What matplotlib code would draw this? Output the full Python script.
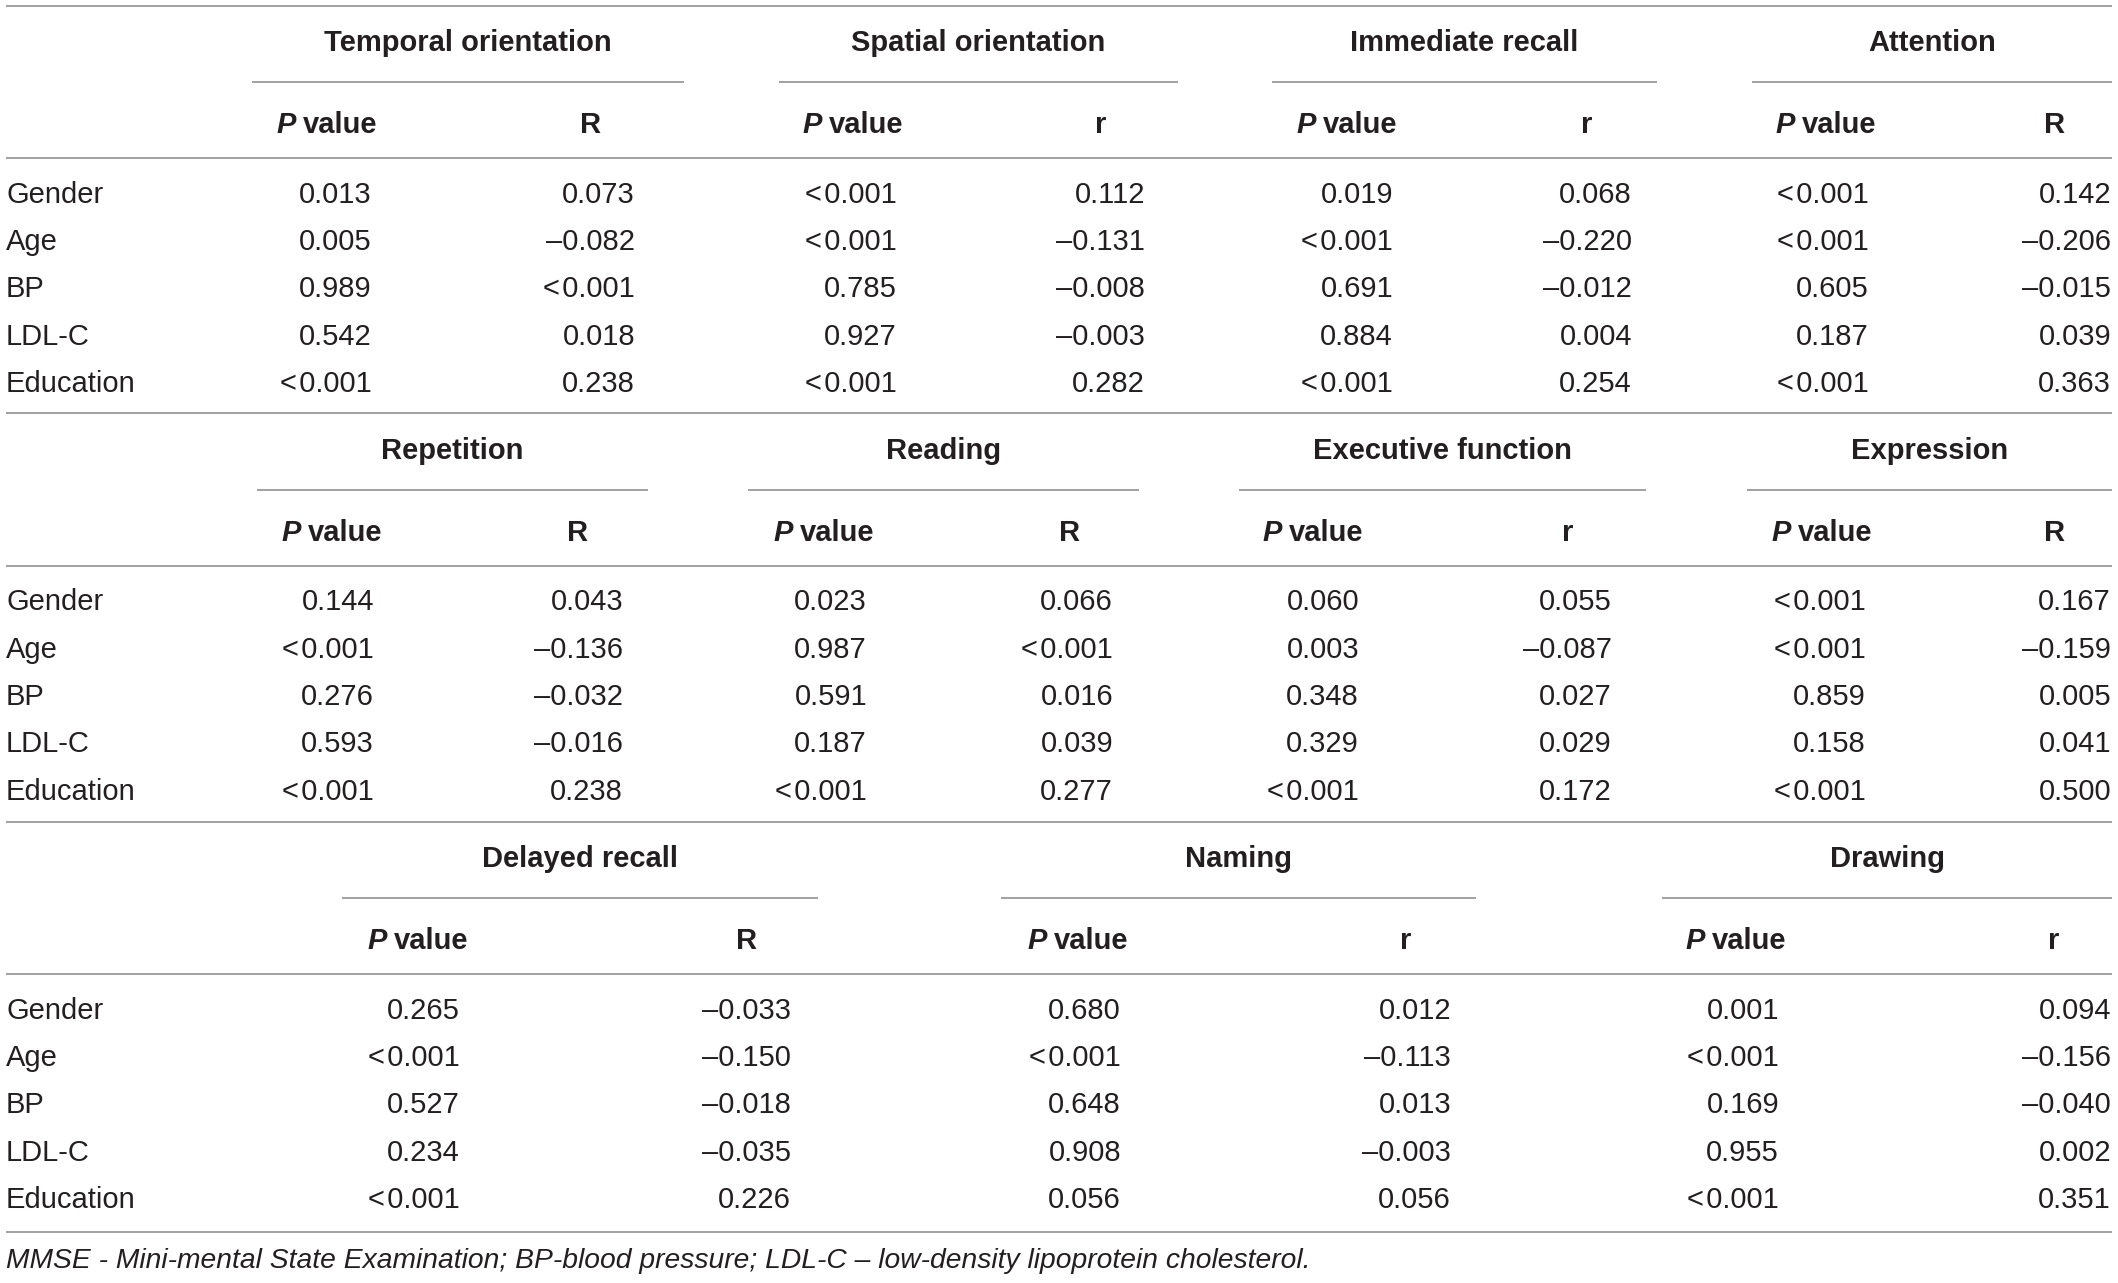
import matplotlib.pyplot as plt

# ---- table content ----
row_labels = ["Gender", "Age", "BP", "LDL-C", "Education"]

domains = ["Temporal orientation", "Spatial orientation", "Immediate recall", "Attention",
           "Repetition", "Reading", "Executive function", "Expression",
           "Delayed recall", "Naming", "Drawing"]
stat_labels = ["R", "r", "r", "R", "R", "R", "r", "R", "R", "r", "r"]

temporal_p = ["0.013", "0.005", "0.989", "0.542", "<0.001"]
temporal_r = ["0.073", "-0.082", "<0.001", "0.018", "0.238"]
spatial_p = ["<0.001", "<0.001", "0.785", "0.927", "<0.001"]
spatial_r = ["0.112", "-0.131", "-0.008", "-0.003", "0.282"]
immediate_p = ["0.019", "<0.001", "0.691", "0.884", "<0.001"]
immediate_r = ["0.068", "-0.220", "-0.012", "0.004", "0.254"]
attention_p = ["<0.001", "<0.001", "0.605", "0.187", "<0.001"]
attention_r = ["0.142", "-0.206", "-0.015", "0.039", "0.363"]
repetition_p = ["0.144", "<0.001", "0.276", "0.593", "<0.001"]
repetition_r = ["0.043", "-0.136", "-0.032", "-0.016", "0.238"]
reading_p = ["0.023", "0.987", "0.591", "0.187", "<0.001"]
reading_r = ["0.066", "<0.001", "0.016", "0.039", "0.277"]
executive_p = ["0.060", "0.003", "0.348", "0.329", "<0.001"]
executive_r = ["0.055", "-0.087", "0.027", "0.029", "0.172"]
expression_p = ["<0.001", "<0.001", "0.859", "0.158", "<0.001"]
expression_r = ["0.167", "-0.159", "0.005", "0.041", "0.500"]
delayed_p = ["0.265", "<0.001", "0.527", "0.234", "<0.001"]
delayed_r = ["-0.033", "-0.150", "-0.018", "-0.035", "0.226"]
naming_p = ["0.680", "<0.001", "0.648", "0.908", "0.056"]
naming_r = ["0.012", "-0.113", "0.013", "-0.003", "0.056"]
drawing_p = ["0.001", "<0.001", "0.169", "0.955", "<0.001"]
drawing_r = ["0.094", "-0.156", "-0.040", "0.002", "0.351"]

p_cols = [temporal_p, spatial_p, immediate_p, attention_p, repetition_p, reading_p,
          executive_p, expression_p, delayed_p, naming_p, drawing_p]
r_cols = [temporal_r, spatial_r, immediate_r, attention_r, repetition_r, reading_r,
          executive_r, expression_r, delayed_r, naming_r, drawing_r]

footnote = ("MMSE - Mini-mental State Examination; BP-blood pressure; "
            "LDL-C \u2013 low-density lipoprotein cholesterol.")

# ---- layout (pixels) ----
block_of = [0, 0, 0, 0, 1, 1, 1, 1, 2, 2, 2]
# underline x0, x1, P header centre, P right edge, stat header centre, stat right edge
col_layout = [
    (252, 684, 327, 372, 591, 635),
    (779, 1178, 853, 897, 1101, 1145),
    (1272, 1657, 1347, 1393, 1587, 1632),
    (1752, 2112, 1826, 1869, 2055, 2111),
    (257, 648, 332, 374, 578, 623),
    (748, 1139, 824, 867, 1070, 1113),
    (1239, 1646, 1313, 1359, 1568, 1612),
    (1747, 2112, 1822, 1866, 2055, 2111),
    (342, 818, 418, 460, 747, 791),
    (1001, 1476, 1078, 1121, 1406, 1451),
    (1662, 2112, 1736, 1779, 2054, 2111),
]
block_tops = [5.7, 413.3, 821.7]
table_bottom = 1231.5
row_step = 47.3
W, H = 2118, 1283

txt_color = "#231f20"
line_color = "#9a9a9a"
fs = 21

plt.rcParams['font.family'] = ['Liberation Sans', 'DejaVu Sans']

fig = plt.figure(figsize=(W / 100, H / 100), dpi=100)
ax = fig.add_axes([0, 0, 1, 1])
ax.set_xlim(0, W)
ax.set_ylim(H, 0)
ax.axis('off')
renderer = fig.canvas.get_renderer()


def fmt(s):
    return s.replace("-", "\u2013").replace("<", "<\u200a")


def hline(y, x0=6, x1=2112):
    ax.plot([x0, x1], [y, y], color=line_color, lw=1.3, solid_capstyle='butt')


for top in block_tops:
    hline(top)
    hline(top + 152.7)
    for i, lab in enumerate(row_labels):
        ax.text(6, top + 189 + i * row_step + 8, lab, fontsize=fs, color=txt_color,
                ha='left', va='baseline')
hline(table_bottom)

for k, name in enumerate(domains):
    top = block_tops[block_of[k]]
    x0, x1, pc, pr, sc, sr = col_layout[k]
    ax.text((x0 + x1) / 2, top + 36 + 9.5, name, fontsize=fs, fontweight='bold',
            color=txt_color, ha='center', va='baseline')
    hline(top + 76.7, x0, x1)
    # "P value" header with italic P
    yb = top + 118 + 9.5
    full = ax.text(0, yb, "P value", fontsize=fs, fontweight='bold')
    wfull = full.get_window_extent(renderer).width
    full.remove()
    ax.text(pc - wfull / 2, yb, "P", fontsize=fs, fontweight='bold', style='italic',
            color=txt_color, ha='left', va='baseline')
    ax.text(pc + wfull / 2, yb, "value", fontsize=fs, fontweight='bold',
            color=txt_color, ha='right', va='baseline')
    ax.text(sc, yb, stat_labels[k], fontsize=fs, fontweight='bold',
            color=txt_color, ha='center', va='baseline')
    for i in range(len(row_labels)):
        y = top + 189 + i * row_step + 8
        ax.text(pr, y, fmt(p_cols[k][i]), fontsize=fs, color=txt_color,
                ha='right', va='baseline')
        ax.text(sr, y, fmt(r_cols[k][i]), fontsize=fs, color=txt_color,
                ha='right', va='baseline')

ax.text(6, 1268, footnote, fontsize=20.3, style='italic', color=txt_color,
        ha='left', va='baseline')

fig.savefig('out.png', dpi=100)
